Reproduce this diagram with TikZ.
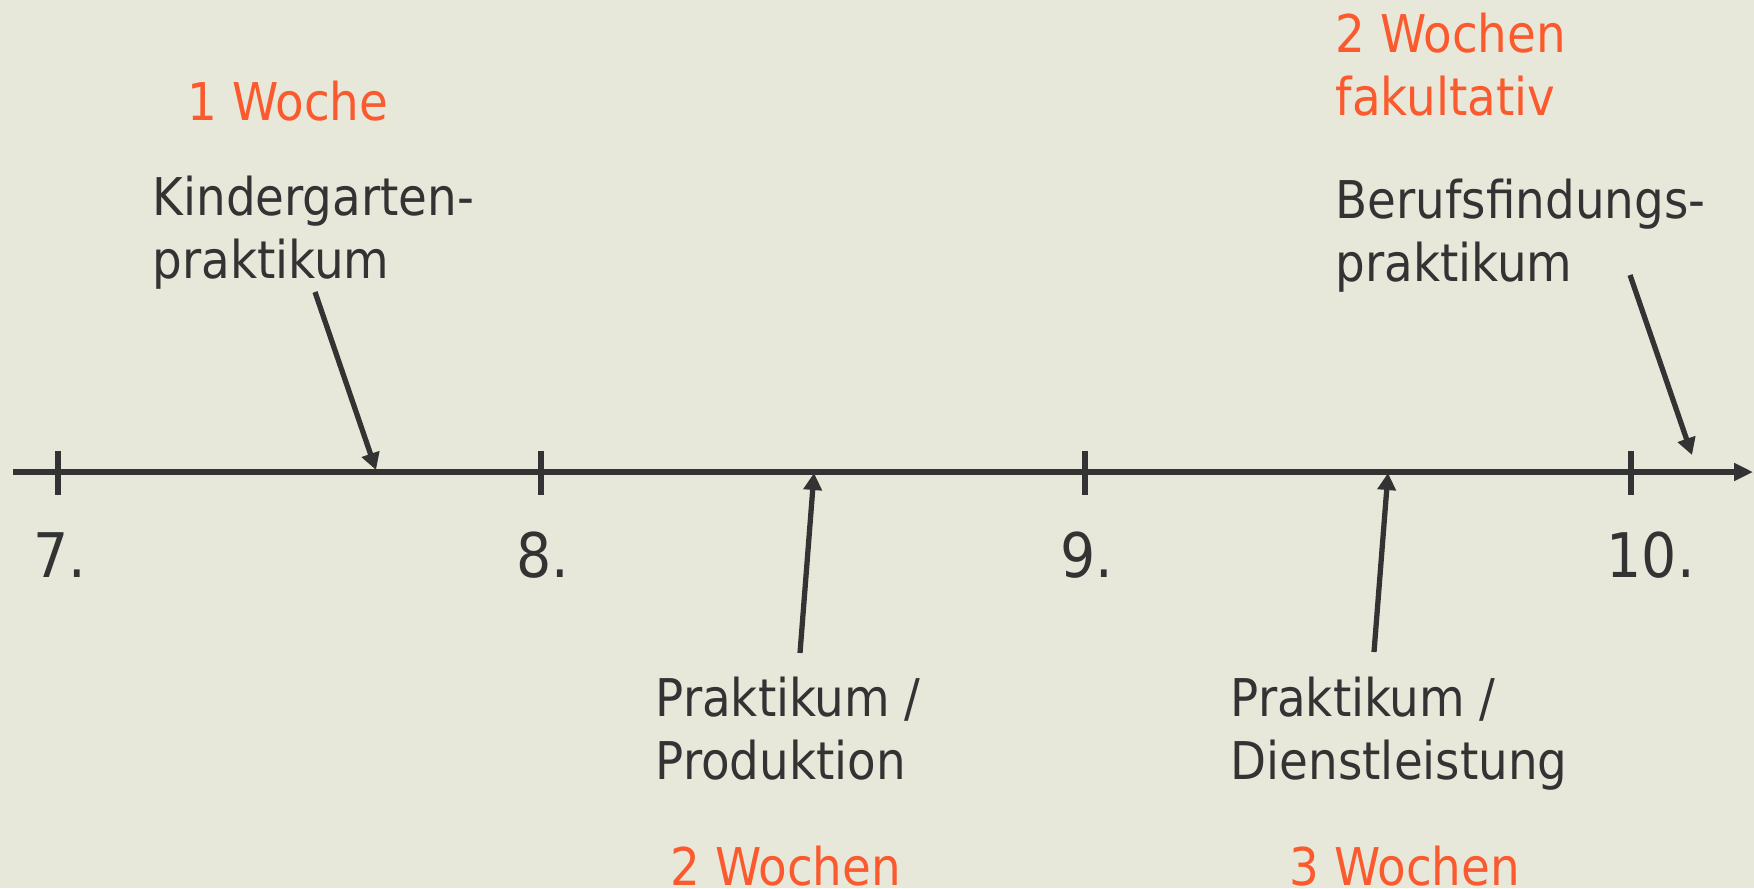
\documentclass[tikz,border=0pt]{standalone}
\usepackage{fontspec}
\setmainfont{DejaVu Sans Condensed}
\usepackage{xcolor}
\usetikzlibrary{arrows.meta, positioning, calc}

\definecolor{paper}{HTML}{E8E8DA}
\definecolor{ink}{HTML}{333333}
\definecolor{accent}{HTML}{FA5A2D}

\begin{document}
\begin{tikzpicture}[
        x=0.1mm, y=-0.1mm,
        label/.style={anchor=base west, inner sep=0pt, align=left, text=ink, font=\fontsize{14.8}{17.9}\selectfont},
        weeks/.style={label, text=accent},
        year/.style={anchor=base west, inner sep=0pt, text=ink, font=\fontsize{17.5}{21}\selectfont},
        axis/.style={-{Triangle[length=1.9mm, width=1.7mm]}, line width=1.5pt, ink},
        tick/.style={line width=1.5pt, ink},
        arr/.style={-{Triangle[length=1.7mm, width=1.8mm]}, line width=1.5pt, ink}
    ]
        \fill[paper] (0,0) rectangle (1754,888);
        \useasboundingbox (0,0) rectangle (1754,888);

        % time axis with school years
        \coordinate (axisL) at (13,472);
        \coordinate (axisR) at (1753,472);
        \draw[axis] (axisL) -- (axisR);
        \foreach \x/\yr in {58/7, 541/8, 1085/9, 1631/10} {
            \draw[tick] (\x,451) -- (\x,495);
            \node[year] (yr\yr) at (\x-25,577) {\yr.};
        }

        % placements above the axis (base = last line)
        \node[weeks] (wKiga) at (187,120) {1 Woche};
        \node[label] (kiga) at (152,278) {Kindergarten-\\praktikum};
        \node[weeks] (wBeruf) at (1335,115) {2 Wochen\\fakultativ};
        \node[label] (beruf) at (1335,281) {Berufsfindungs-\\praktikum};

        % placements below the axis
        \node[label] (prod) at (655,779) {Praktikum /\\Produktion};
        \node[weeks] (wProd) at (670,885) {2 Wochen};
        \node[label] (dienst) at (1230,779) {Praktikum /\\Dienstleistung};
        \node[weeks] (wDienst) at (1289,885) {3 Wochen};

        \coordinate (kigaFrom) at (315,292);
        \coordinate (kigaTo) at (376,470);
        \coordinate (prodFrom) at (800,653);
        \coordinate (prodTo) at (814,473);
        \coordinate (dienstFrom) at (1374,652);
        \coordinate (dienstTo) at (1388,473);
        \coordinate (berufFrom) at (1630,275);
        \coordinate (berufTo) at (1692,455);

        \draw[arr] (kigaFrom) -- (kigaTo);
        \draw[arr] (prodFrom) -- (prodTo);
        \draw[arr] (dienstFrom) -- (dienstTo);
        \draw[arr] (berufFrom) -- (berufTo);
    \end{tikzpicture}
\end{document}
